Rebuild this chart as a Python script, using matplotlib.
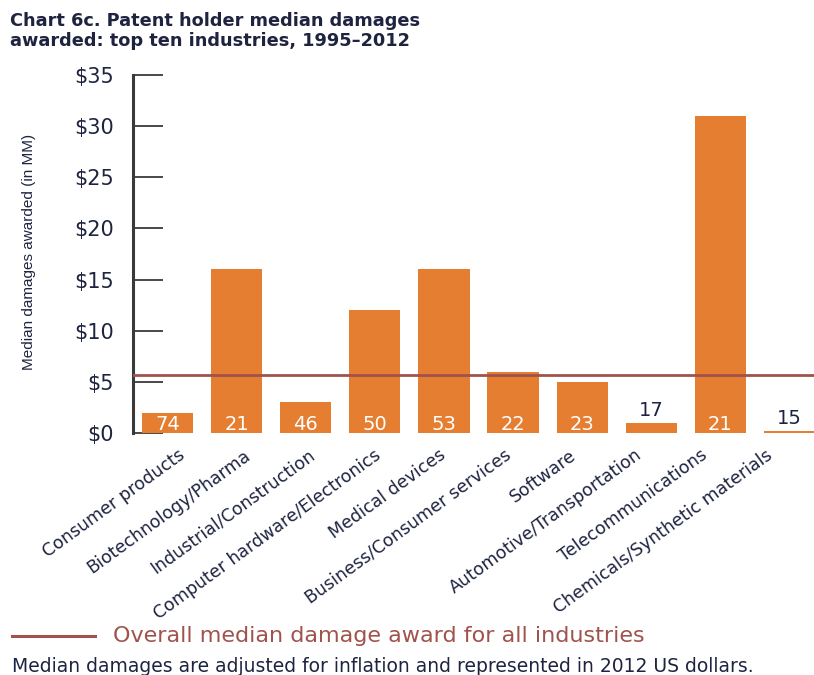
import matplotlib
matplotlib.use("Agg")
import matplotlib.pyplot as plt
from matplotlib import font_manager
from matplotlib.lines import Line2D
from matplotlib.transforms import ScaledTranslation, blended_transform_factory

# Industry data: median damages (in $MM) and number of cases per industry
industries = [
    "Consumer products",
    "Biotechnology/Pharma",
    "Industrial/Construction",
    "Computer hardware/Electronics",
    "Medical devices",
    "Business/Consumer services",
    "Software",
    "Automotive/Transportation",
    "Telecommunications",
    "Chemicals/Synthetic materials",
]
median_damages = [2.0, 16.0, 3.0, 12.0, 16.0, 6.0, 5.0, 1.0, 31.0, 0.15]
case_counts = [74, 21, 46, 50, 53, 22, 23, 17, 21, 15]
overall_median = 5.7

y_ticks = [0, 5, 10, 15, 20, 25, 30, 35]
y_tick_labels = ["$0", "$5", "$10", "$15", "$20", "$25", "$30", "$35"]

BAR = "#E67E31"
MEDIAN = "#A0534C"
NAVY = "#1E2440"
AXIS = "#3A3A3A"

plt.rcParams["font.family"] = ["DejaVu Sans"]

# pick a narrow face for the vertical axis title, sized to its metrics
installed = {f.name for f in font_manager.fontManager.ttflist}
if "Liberation Sans Narrow" in installed:
    ylab_family, ylab_size = "Liberation Sans Narrow", 12.5
elif "Liberation Sans" in installed:
    ylab_family, ylab_size = "Liberation Sans", 11
else:
    ylab_family, ylab_size = "DejaVu Sans", 9.5

fig = plt.figure(figsize=(8.14, 6.75), dpi=100)
ax = fig.add_axes([133 / 814, (675 - 433) / 675, (814 - 133) / 814, (433 - 75) / 675])

x = list(range(len(industries)))
ax.bar(x, median_damages, width=0.74, color=BAR, zorder=2)
ax.axhline(overall_median, color=MEDIAN, lw=2.0, zorder=3)

# case counts: inside the bar if tall enough, otherwise just above it
for xi, v, n in zip(x, median_damages, case_counts):
    if v >= 2:
        ax.text(xi, 0.8, str(n), ha="center", va="center", color="white",
                fontsize=14, zorder=4)
    else:
        ax.text(xi, v + 0.3, str(n), ha="center", va="bottom", color=NAVY,
                fontsize=14, zorder=4)

ax.set_xlim(-0.5, 9.355)
ax.set_ylim(0, 35)
ax.set_yticks(y_ticks)
ax.set_yticklabels(y_tick_labels, fontsize=15, color=NAVY)
ax.tick_params(axis="y", direction="in", length=21.5, width=1.3, color=AXIS, pad=14)
ax.set_xticks(x)
ax.set_xticklabels([])
ax.tick_params(axis="x", length=0)

for s in ["top", "right", "bottom"]:
    ax.spines[s].set_visible(False)
ax.spines["left"].set_color(AXIS)
ax.spines["left"].set_linewidth(2.2)

# rotated category labels; their right ends sit on a slightly tighter pitch than the bars
lab_tr = blended_transform_factory(ax.transData, ax.transAxes) + \
    ScaledTranslation(0, -13 / 100, fig.dpi_scale_trans)
for xi, name in zip(x, industries):
    ax.text(0.145 + 0.945 * xi, 0, name, rotation=36, rotation_mode="anchor",
            ha="right", va="top", fontsize=12.5, color=NAVY, transform=lab_tr)

fig.text(29 / 814, (675 - 252) / 675, "Median damages awarded (in MM)",
         rotation=90, ha="center", va="center",
         fontsize=ylab_size, color=NAVY, family=[ylab_family, "DejaVu Sans"])

fig.text(10 / 814, (675 - 12) / 675,
         "Chart 6c. Patent holder median damages\nawarded: top ten industries, 1995\u20132012",
         ha="left", va="top", fontsize=12.8, fontweight="bold", color=NAVY,
         linespacing=1.15)

ly = (675 - 636) / 675
fig.add_artist(Line2D([12 / 814, 95 / 814], [ly, ly], color=MEDIAN, lw=2.2,
                      transform=fig.transFigure))
fig.text(113 / 814, ly, "Overall median damage award for all industries",
         ha="left", va="center", fontsize=16, color=MEDIAN)

fig.text(12 / 814, (675 - 667) / 675,
         "Median damages are adjusted for inflation and represented in 2012 US dollars.",
         ha="left", va="center", fontsize=13.5, color=NAVY)

fig.savefig("out.png", dpi=100, facecolor="white")
